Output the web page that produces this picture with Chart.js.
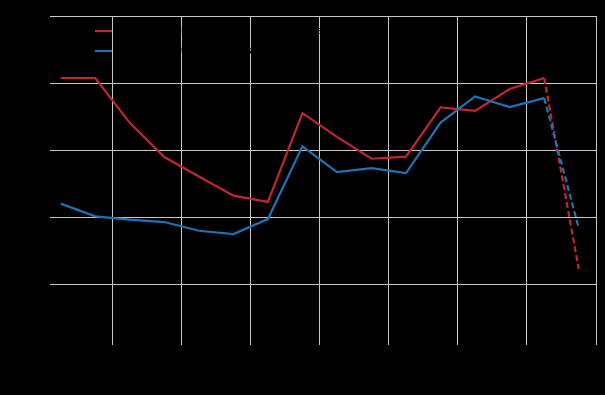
<!DOCTYPE html>
<html lang="en">
<head>
  <meta charset="UTF-8" />
  <title>Output index</title>
  <script src="https://cdn.jsdelivr.net/npm/chart.js"></script>
  <style>
    html, body { margin: 0; padding: 0; background: #000; }
    #wrap { width: 605px; height: 395px; }
  </style>
</head>
<body>
  <div id="wrap"><canvas id="chart" width="605" height="395"></canvas></div>

  <script>
    // data (mid-year points, last one is a projection)
    const years = [2005.5, 2006.5, 2007.5, 2008.5, 2009.5, 2010.5, 2011.5, 2012.5,
                   2013.5, 2014.5, 2015.5, 2016.5, 2017.5, 2018.5, 2019.5, 2020.5];
    const redValues = [81.5, 81.5, 68.1, 57.9, 52.1, 46.4, 44.5, 71.0,
                       63.9, 57.4, 58.0, 72.7, 71.7, 78.2, 81.5, 24.5];
    const blueValues = [44.0, 40.2, 39.2, 38.5, 35.9, 34.9, 39.4, 61.1,
                        53.4, 54.6, 53.1, 68.2, 76.0, 72.8, 75.5, 36.7];
    const xTicks = [2007, 2009, 2011, 2013, 2015, 2017, 2019, 2021];
    const yTicks = [20, 40, 60, 80, 100];
    const seriesNames = ["Manufacturing output index, seasonally adjusted", "Services activity index, adjusted"];
    const seriesColors = ["#c0272f", "#1f72b4"];
    const projectionFrom = 15; // index of the projected point

    const toPoints = vals => vals.map((v, i) => ({ x: years[i], y: v }));
    const dashLast = ctx => ctx.p1DataIndex === projectionFrom ? [6, 3] : undefined;

    // legend drawn inside the plot, top left
    const innerLegend = {
      id: "innerLegend",
      afterDatasetsDraw(chart) {
        const c = chart.ctx;
        const left = chart.chartArea.left;
        c.save();
        seriesNames.forEach((name, i) => {
          const y = 31 + i * 20;
          c.strokeStyle = seriesColors[i];
          c.lineWidth = 2.2;
          c.beginPath();
          c.moveTo(left + 45, y);
          c.lineTo(left + 62, y);
          c.stroke();
          c.fillStyle = "#000";
          c.font = "11px 'DejaVu Sans'";
          c.textBaseline = "middle";
          c.fillText(name, left + 68, y);
        });
        c.restore();
      }
    };

    new Chart(document.getElementById("chart"), {
      type: "line",
      data: {
        datasets: [
          {
            label: seriesNames[1],
            data: toPoints(blueValues),
            borderColor: seriesColors[1],
            borderWidth: 2.2,
            pointRadius: 0,
            tension: 0,
            segment: { borderDash: dashLast }
          },
          {
            label: seriesNames[0],
            data: toPoints(redValues),
            borderColor: seriesColors[0],
            borderWidth: 2.2,
            pointRadius: 0,
            tension: 0,
            segment: { borderDash: dashLast }
          }
        ]
      },
      options: {
        responsive: false,
        devicePixelRatio: 1,
        animation: false,
        layout: { padding: { top: 16, right: 9, left: 0, bottom: 0 } },
        plugins: { legend: { display: false }, tooltip: { enabled: false } },
        scales: {
          x: {
            type: "linear",
            min: 2005.19,
            max: 2021,
            afterBuildTicks: s => { s.ticks = xTicks.map(v => ({ value: v })); },
            afterFit: s => { s.height = 54; s.paddingLeft = 0; s.paddingRight = 0; },
            border: { display: false },
            grid: { color: "#c8c8c8", lineWidth: 1, tickLength: 4 },
            ticks: { color: "#000", font: { size: 10 }, padding: 1, maxRotation: 0 }
          },
          y: {
            min: 3,
            max: 100,
            afterBuildTicks: s => { s.ticks = yTicks.map(v => ({ value: v })); },
            afterFit: s => { s.width = 50; },
            border: { display: false },
            grid: { color: "#c8c8c8", lineWidth: 1, drawTicks: false },
            ticks: { color: "#000", font: { size: 10 }, padding: 4 }
          }
        }
      },
      plugins: [innerLegend]
    });
  </script>
</body>
</html>
